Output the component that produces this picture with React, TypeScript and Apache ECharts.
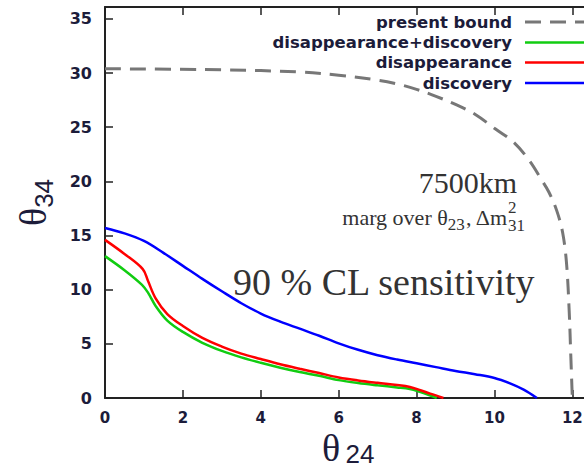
import React, { useEffect, useRef } from "react";
import * as echarts from "echarts";

const xTicks = [0, 2, 4, 6, 8, 10, 12];
const yTicks = [0, 5, 10, 15, 20, 25, 30, 35];

const seriesNames = ["present bound", "disappearance+discovery", "disappearance", "discovery"];
const seriesColors = ["#777777", "#11cc11", "#ff0000", "#0000ff"];

const presentBound: number[][] = [
  [0, 30.4], [3, 30.3], [5, 30.1], [6, 29.8], [7, 29.35], [7.5, 29.0], [8, 28.5], [8.5, 27.85],
  [9, 27.1], [9.5, 26.2], [10, 24.9], [10.5, 23.6], [10.9, 21.9], [11.2, 20.2], [11.4, 19.0],
  [11.6, 17.3], [11.75, 15.3], [11.85, 12.5], [11.92, 8.0], [11.96, 4.0], [12, 0],
];
const disDiscovery: number[][] = [
  [0, 13.1], [0.5, 11.8], [0.95, 10.45], [1.1, 9.75], [1.3, 8.5], [1.6, 7.15], [2, 6.1], [2.5, 5.1],
  [3, 4.35], [3.5, 3.75], [4, 3.25], [4.5, 2.8], [5, 2.4], [5.5, 2.05], [6, 1.65], [6.5, 1.38],
  [7, 1.17], [7.5, 0.98], [7.83, 0.83], [8.1, 0.55], [8.3, 0.3], [8.52, 0],
];
const disappearance: number[][] = [
  [0, 14.6], [0.5, 13.3], [0.97, 11.9], [1.1, 10.85], [1.3, 9.2], [1.6, 7.75], [2, 6.65], [2.5, 5.55],
  [3, 4.75], [3.5, 4.1], [4, 3.6], [4.5, 3.12], [5, 2.7], [5.5, 2.3], [6, 1.9], [6.5, 1.62],
  [7, 1.4], [7.5, 1.2], [7.83, 1.02], [8.1, 0.72], [8.35, 0.4], [8.69, 0],
];
const discovery: number[][] = [
  [0, 15.7], [0.5, 15.2], [1, 14.5], [1.5, 13.4], [2, 12.2], [2.5, 11.0], [3, 9.85], [3.5, 8.75],
  [4, 7.8], [4.5, 7.05], [5, 6.4], [5.5, 5.75], [6, 5.05], [6.5, 4.45], [7, 3.95], [7.5, 3.55],
  [8, 3.2], [8.5, 2.85], [9, 2.5], [9.5, 2.2], [10, 1.85], [10.4, 1.35], [10.75, 0.77], [11.09, 0],
];
const seriesData = [presentBound, disDiscovery, disappearance, discovery];

const labelColor = "#1c1c3a";
const axisColor = "#222222";

export default function App() {
  const ref = useRef<HTMLDivElement>(null);
  useEffect(() => {
    if (!ref.current) return;
    const chart = echarts.init(ref.current, undefined, { renderer: "svg" });

    const legendY = [22, 42.5, 62.5, 83];
    const legendGraphics: any[] = [];
    seriesNames.forEach((n, i) => {
      legendGraphics.push({
        type: "text",
        x: 512,
        y: legendY[i],
        style: {
          text: n,
          align: "right",
          verticalAlign: "middle",
          font: 'bold 16.5px "DejaVu Sans"',
          fill: labelColor,
        },
      });
      legendGraphics.push({
        type: "line",
        shape: { x1: 525, y1: legendY[i], x2: 590, y2: legendY[i] },
        style: {
          stroke: seriesColors[i],
          lineWidth: i === 0 ? 3 : 2.5,
          lineDash: i === 0 ? [16, 9] : null,
        },
      });
    });

    const serifFamily = '"Liberation Serif", "DejaVu Serif", serif';
    const serif = serifFamily;
    const annColor = "#333333";

    chart.setOption({
      animation: false,
      grid: { left: 105, right: 0, top: 7, bottom: 71, containLabel: false, outerBoundsMode: "none" },
      xAxis: [
        {
          type: "value",
          min: 0,
          max: 12.3,
          position: "bottom",
          splitLine: { show: false },
          axisLine: { lineStyle: { color: axisColor, width: 2 } },
          axisTick: { inside: true, length: 8, customValues: xTicks, lineStyle: { color: axisColor, width: 1.5 } },
          axisLabel: {
            customValues: xTicks,
            margin: 12,
            color: labelColor,
            fontFamily: "DejaVu Sans",
            fontWeight: "bold",
            fontSize: 15,
          },
        },
        {
          type: "value",
          min: 0,
          max: 12.3,
          position: "top",
          splitLine: { show: false },
          axisLine: { lineStyle: { color: axisColor, width: 2 } },
          axisTick: { inside: true, length: 8, customValues: xTicks, lineStyle: { color: axisColor, width: 1.5 } },
          axisLabel: { show: false },
        },
      ],
      yAxis: {
        type: "value",
        min: 0,
        max: 36.1,
        name: "{t|θ}{s|34}",
        nameLocation: "middle",
        nameRotate: 90,
        nameGap: 52,
        nameTextStyle: {
          color: labelColor,
          rich: {
            t: { fontSize: 38, fontFamily: serifFamily, color: labelColor, lineHeight: 40 },
            s: { fontSize: 26, fontFamily: "Liberation Sans", color: labelColor, padding: [22, 0, 0, 0], lineHeight: 26 },
          },
        },
        splitLine: { show: false },
        axisLine: { show: true, lineStyle: { color: axisColor, width: 2 } },
        axisTick: { show: true, inside: true, length: 8, customValues: yTicks, lineStyle: { color: axisColor, width: 1.5 } },
        axisLabel: {
          customValues: yTicks,
          margin: 13,
          color: labelColor,
          fontFamily: "DejaVu Sans",
          fontWeight: "bold",
          fontSize: 16,
        },
      },
      series: seriesData.map((d, i) => ({
        name: seriesNames[i],
        type: "line",
        data: d,
        xAxisIndex: 0,
        symbol: "none",
        smooth: 0.35,
        z: i === 0 ? 2 : 3,
        lineStyle: {
          color: seriesColors[i],
          width: i === 0 ? 3 : 2.5,
          type: i === 0 ? [16, 9] : "solid",
        },
      })),
      graphic: [
        ...legendGraphics,
        {
          type: "text", x: 517, y: 182,
          style: { text: "7500km", align: "right", verticalAlign: "middle", font: `30px ${serif}`, fill: annColor },
        },
        {
          type: "text", x: 507, y: 219,
          style: {
            text: "{a|marg over θ}{s|23}{a|, Δm}",
            align: "right",
            verticalAlign: "middle",
            fill: annColor,
            rich: {
              a: { fontSize: 22, fontFamily: serifFamily, fill: annColor, padding: [0, 0, 4, 0] },
              s: { fontSize: 17, fontFamily: serifFamily, fill: annColor, padding: [10, 0, 0, 0] },
            },
          },
        },
        {
          type: "text", x: 508, y: 207,
          style: { text: "2", align: "left", verticalAlign: "middle", font: `17px ${serif}`, lineHeight: 11, fill: annColor },
        },
        {
          type: "text", x: 508, y: 225,
          style: { text: "31", align: "left", verticalAlign: "middle", font: `17px ${serif}`, lineHeight: 11, fill: annColor },
        },
        {
          type: "text", x: 233, y: 282,
          style: { text: "90 % CL sensitivity", align: "left", verticalAlign: "middle", font: `38px ${serif}`, fill: annColor },
        },
        {
          type: "text", x: 331, y: 448,
          style: { text: "θ", align: "center", verticalAlign: "middle", font: `38px ${serif}`, lineHeight: 28, fill: labelColor },
        },
        {
          type: "text", x: 360, y: 454,
          style: { text: "24", align: "center", verticalAlign: "middle", font: '26px "Liberation Sans"', lineHeight: 20, fill: labelColor },
        },
      ],
    });
    return () => chart.dispose();
  }, []);
  return (
    <div
      ref={ref}
      style={{ position: "fixed", left: 0, top: 0, width: 584, height: 469, background: "#ffffff" }}
    />
  );
}
